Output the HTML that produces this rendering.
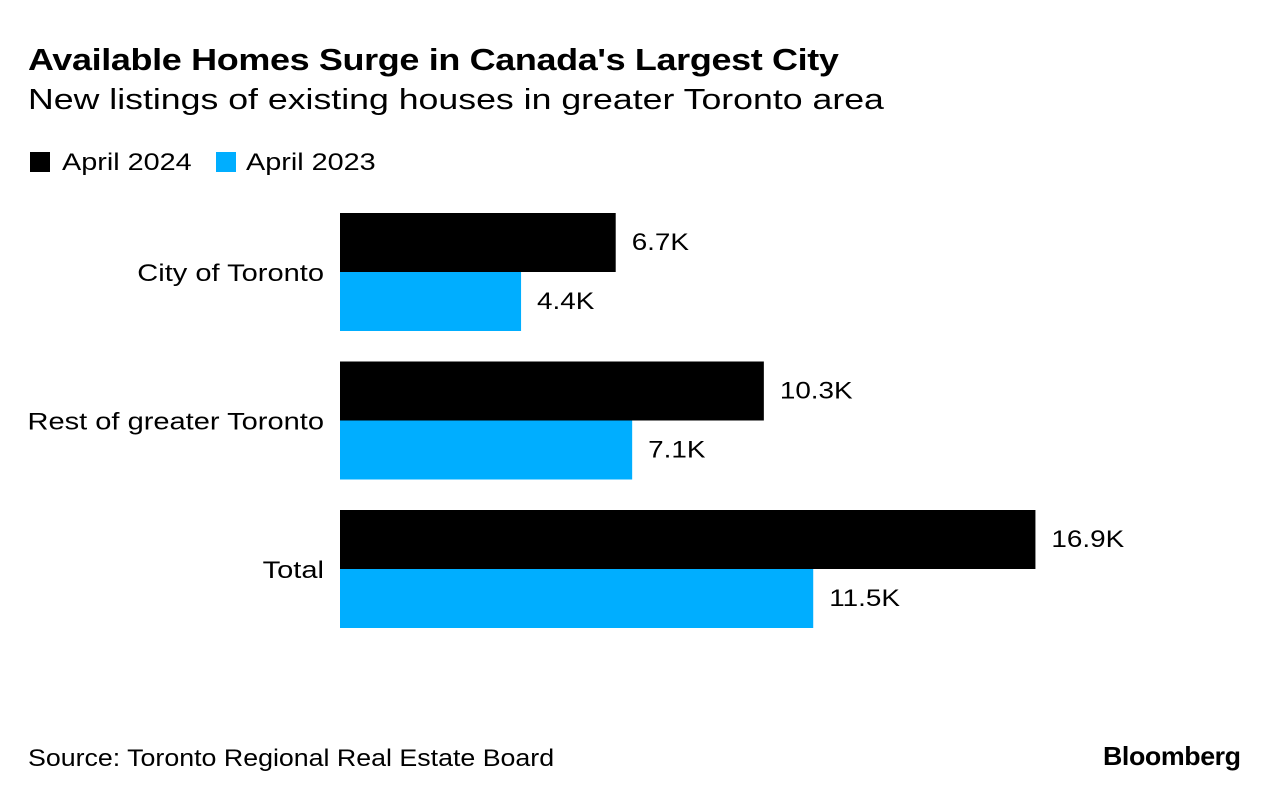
<!DOCTYPE html>
<html><head><meta charset="utf-8"><style>
body{margin:0;width:1280px;height:800px;background:#fff;font-family:"Liberation Sans",sans-serif;color:#000;position:relative;overflow:hidden}
.abs{position:absolute;white-space:nowrap;transform-origin:0 0}
</style></head><body>
<div class="abs" style="left:28px;top:42px;font-size:31px;font-weight:bold;letter-spacing:-0.3px;transform:scaleX(1.16)">Available Homes Surge in Canada's Largest City</div>
<div class="abs" style="left:28px;top:84px;font-size:29px;transform:scaleX(1.23)">New listings of existing houses in greater Toronto area</div>
<div class="abs" style="left:30px;top:149px;font-size:24px"><span style="display:inline-block;width:20px;height:20px;background:#000;vertical-align:-2px;margin-right:12px"></span><span style="display:inline-block;transform:scaleX(1.2);transform-origin:0 0">April 2024</span></div>
<div class="abs" style="left:216px;top:149px;font-size:24px"><span style="display:inline-block;width:20px;height:20px;background:#00aeff;vertical-align:-2px;margin-right:10px"></span><span style="display:inline-block;transform:scaleX(1.2);transform-origin:0 0">April 2023</span></div>
<svg id="chart" class="abs" style="left:0;top:0" width="1280" height="800"></svg>
<div class="abs" style="left:28px;top:745px;font-size:24px;transform:scaleX(1.115)">Source: Toronto Regional Real Estate Board</div>
<div class="abs" style="left:1103px;top:741px;font-size:26px;font-weight:bold;letter-spacing:-0.4px;transform:scaleX(1.03)">Bloomberg</div>
<script>
const categories=["City of Toronto","Rest of greater Toronto","Total"];
const values2024=[6.7,10.3,16.9];
const values2023=[4.4,7.1,11.5];
const labels2024=["6.7K","10.3K","16.9K"];
const labels2023=["4.4K","7.1K","11.5K"];
const svg=document.getElementById('chart');
const NS='http://www.w3.org/2000/svg';
const x0=340,scale=41.15,top0=213,pitch=148.5,bh=59;
const xs=v=>v*scale;
function mk(t,a){const e=document.createElementNS(NS,t);for(const k in a)e.setAttribute(k,a[k]);svg.appendChild(e);return e;}
function stretch(el,f){const w=el.getComputedTextLength();el.setAttribute('textLength',w*f);el.setAttribute('lengthAdjust','spacingAndGlyphs');}
categories.forEach((c,i)=>{
 const y=top0+i*pitch;
 const t=mk('text',{x:324,y:y+bh+9,'text-anchor':'end','font-size':24,'font-family':'Liberation Sans, sans-serif'});t.textContent=c;stretch(t,1.21);
 
 
 const b1=mk('rect',{x:x0,y:y,width:xs(values2024[i]),height:bh,fill:'#000'});
 
 
 const b2=mk('rect',{x:x0,y:y+bh,width:xs(values2023[i]),height:bh,fill:'#00aeff'});
 
 
 const l1=mk('text',{x:x0+xs(values2024[i])+16,y:y+37,'font-size':24,'font-family':'Liberation Sans, sans-serif'});l1.textContent=labels2024[i];stretch(l1,1.16);
 
 
 const l2=mk('text',{x:x0+xs(values2023[i])+16,y:y+bh+37,'font-size':24,'font-family':'Liberation Sans, sans-serif'});l2.textContent=labels2023[i];stretch(l2,1.16);
 
 
});
</script>
</body></html>
